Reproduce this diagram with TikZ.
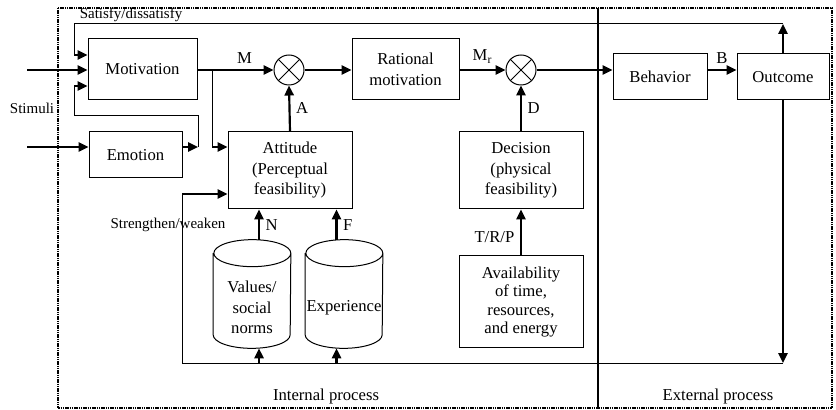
\documentclass[tikz,border=0pt]{standalone}
\usepackage{fontspec}
\setmainfont{Liberation Serif}
\usetikzlibrary{arrows.meta}

\begin{document}
\begin{tikzpicture}[x=0.6pt,y=-0.6pt,font=\fontsize{10}{12.3}\selectfont]
    \tikzset{Box/.style={draw, line width=0.6pt, align=center, inner sep=0pt}}
    \tikzset{Mult/.style={draw, circle, line width=0.6pt, minimum size=18pt, inner sep=0pt,
        path picture={\draw[line width=0.6pt]
            (path picture bounding box.north west) -- (path picture bounding box.south east)
            (path picture bounding box.north east) -- (path picture bounding box.south west);}}}
    \tikzset{Store/.style={align=center, inner sep=0pt, minimum width=46.2pt, minimum height=48.6pt}}
    \tikzset{Flow/.style={line width=1.3pt, -{Triangle[length=6pt,width=5.5pt]}}}
    \tikzset{Wire/.style={line width=0.6pt}}
    \tikzset{Tag/.style={font=\fontsize{9}{11}\selectfont}}

    \useasboundingbox (0,0) rectangle (836,410);
    \draw[dash pattern=on 0.9pt off 0.45pt, line width=1.3pt] (58,8) rectangle (832,408);
    \draw[line width=1pt] (598,8) -- (598,408);

    \node[Box, minimum width=65.4pt, minimum height=36.6pt] (mot) at (142.5,69.5) {Motivation};
    \node[Box, minimum width=55.8pt, minimum height=27.6pt] (emo) at (135.5,155) {Emotion};
    \node[Box, minimum width=74.4pt, minimum height=46.2pt] (att) at (290,170.5) {Attitude\\(Perceptual\\feasibility)};
    \node[Box, minimum width=64.2pt, minimum height=36.6pt] (rat) at (405.5,69.5) {Rational\\motivation};
    \node[Box, minimum width=74.4pt, minimum height=46.2pt] (dec) at (521,170.5) {Decision\\(physical\\feasibility)};
    \node[Box, minimum width=74.4pt, minimum height=55.2pt, font=\fontsize{10}{11.1}\selectfont] (ava) at (521,302) {Availability\\of time,\\resources,\\and energy};
    \node[Box, minimum width=56.4pt, minimum height=27.6pt] (beh) at (660,77) {Behavior};
    \node[Box, minimum width=55.2pt, minimum height=27.6pt] (out) at (783,77) {Outcome};
    \node[Mult] (m1) at (289,70) {};
    \node[Mult] (m2) at (521,70) {};
    \node[Store] (val) at (252,307.5) {Values/\\social\\norms};
    \node[Store] (exp) at (344,307.5) {Experience};
    \foreach \s in {val,exp}
        \draw[Wire] ([yshift=8.1pt]\s.north west) -- ([yshift=8.1pt]\s.south west)
            arc[start angle=180, end angle=360, x radius=23.1pt, y radius=8.1pt]
            -- ([yshift=8.1pt]\s.north east)
            arc[start angle=0, end angle=360, x radius=23.1pt, y radius=8.1pt];

    \node[Tag] (sat) at (131,15) {Satisfy/dissatisfy};
    \node[Tag] (sti) at (32,108) {Stimuli};
    \node[Tag] (str) at (168,225) {Strengthen/weaken};
    \node (int) at (326,396) {Internal process};
    \node (ext) at (718,396) {External process};

    \coordinate (s1) at (27,70);
    \coordinate (s2) at (27,147);
    \coordinate (tl) at (74,24);
    \coordinate (fa) at (74,55);
    \coordinate (fb) at (74,86);
    \coordinate (ml) at (74,116);
    \coordinate (ej) at (198,147);
    \coordinate (mj) at (212,70);
    \coordinate (ba) at (182,194);
    \coordinate (bl) at (182,363);
    \coordinate (br) at (783,363);
    \coordinate (vx) at ([xshift=4.2pt]val.south);
    \coordinate (vt) at ([xshift=4.2pt,yshift=16.2pt]val.north);
    \coordinate (ex) at ([xshift=-4.5pt]exp.south);
    \coordinate (et) at ([xshift=-4.5pt,yshift=16.2pt]exp.north);

    \draw[Flow] (s1) -- (s1 -| mot.west);
    \draw[Flow] (s2) -- (s2 -| emo.west);
    \draw[Wire] (out.north |- tl) -- (tl) -- (fa);
    \draw[Flow] (fa) -- (fa -| mot.west);
    \draw[Flow] (out.north) -- (out.north |- tl);
    \draw[Flow] (emo.east |- ej) -- (ej);
    \draw[Wire] (ej) -- (ej |- ml) -- (ml) -- (fb);
    \draw[Flow] (fb) -- (fb -| mot.west);
    \draw[Flow] (mot.east |- m1) -- node[above, pos=0.62]{M} (m1.west);
    \draw[Wire] (mj) -- (mj |- s2);
    \draw[Flow] (mj |- s2) -- (s2 -| att.west);
    \draw[Flow] (att.north) -- node[right]{A} (m1.south);
    \draw[Flow] (m1.east) -- (m1.east -| rat.west);
    \draw[Flow] (rat.east |- m2) -- node[above]{M$_\mathrm{r}$} (m2.west);
    \draw[Flow] (dec.north) -- node[right]{D} (m2.south);
    \draw[Flow] (ava.north) -- node[left, pos=0.4]{T/R/P} (dec.south);
    \draw[Flow] (m2.east) -- (m2.east -| beh.west);
    \draw[Flow] (beh.east |- m2) -- node[above]{B} (out.west |- m2);
    \draw[Flow] (out.south) -- (br);
    \draw[Wire] (br) -- (bl) -- (ba);
    \draw[Flow] (ba) -- (ba -| att.west);
    \draw[Flow] (vx |- bl) -- (vx);
    \draw[Flow] (ex |- bl) -- (ex);
    \draw[Flow] (vt) -- node[right]{N} (vt |- att.south);
    \draw[Flow] (et) -- node[right]{F} (et |- att.south);
\end{tikzpicture}
\end{document}
